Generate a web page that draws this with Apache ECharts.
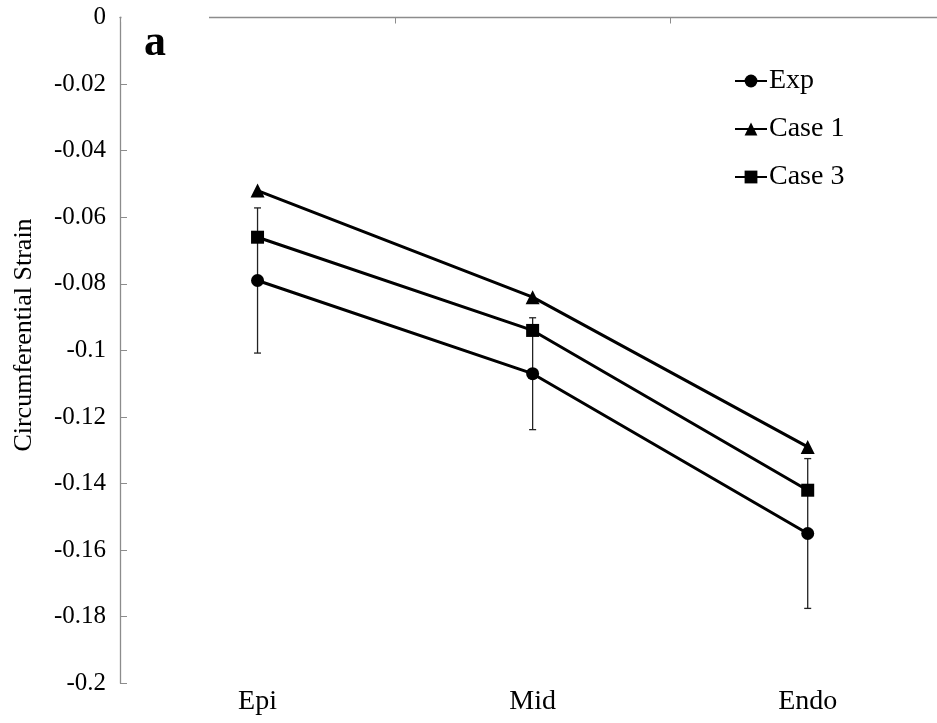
<!DOCTYPE html>
<html>
<head>
<meta charset="utf-8">
<script src="https://cdn.jsdelivr.net/npm/echarts@6/dist/echarts.min.js"></script>
<style>html,body{margin:0;padding:0;background:#fff}#c{width:937px;height:723px}</style>
</head>
<body>
<div id="c"></div>
<script>
var categories = ['Epi', 'Mid', 'Endo'];
var expValues = [-0.079, -0.107, -0.155];
var expSd = [0.0218, 0.0168, 0.0225];
var case1Values = [-0.052, -0.084, -0.129];
var case3Values = [-0.066, -0.094, -0.142];
var yTicks = { min: -0.2, max: 0, interval: 0.02 };

var serif = '"Liberation Serif", "Times New Roman", serif';
var chart = echarts.init(document.getElementById('c'));

function pts(vals) { return vals.map(function (v, i) { return [i, v]; }); }
var catIdx = categories.map(function (c, i) { return i; });
var catBounds = categories.slice(1).map(function (c, i) { return i + 0.5; });
var errData = categories.map(function (c, i) {
  return [i, expValues[i] - expSd[i], expValues[i] + expSd[i]];
});

chart.setOption({
  animation: false,
  backgroundColor: '#fff',
  grid: { left: 120, right: 0, top: 17.5, bottom: 39.7, containLabel: false },
  legend: {
    orient: 'vertical', left: 729, top: 62, itemGap: 20,
    itemWidth: 32, itemHeight: 16,
    textStyle: { fontFamily: serif, fontSize: 28, color: '#000', padding: [0, 0, 0, -3] },
    data: ['Exp', 'Case 1', 'Case 3']
  },
  xAxis: [{
    type: 'value', min: -0.5, max: 2.47, position: 'top',
    axisLine: { show: true, onZero: false, lineStyle: { color: '#8c8c8c', width: 1.3 } },
    axisTick: { show: true, inside: true, length: 6, customValues: catBounds, lineStyle: { color: '#8c8c8c' } },
    axisLabel: { show: false }, splitLine: { show: false }
  }, {
    type: 'value', min: -0.5, max: 2.47, position: 'bottom',
    axisLine: { show: false, onZero: false }, axisTick: { show: false },
    axisLabel: { show: true, margin: 4, customValues: catIdx, fontFamily: serif, fontSize: 28, color: '#000',
      formatter: function (v) { return categories[Math.round(v)] || ''; } },
    splitLine: { show: false }
  }],
  yAxis: {
    type: 'value', min: yTicks.min, max: yTicks.max, interval: yTicks.interval,
    axisLine: { show: true, onZero: false, lineStyle: { color: '#8c8c8c', width: 1.3 } },
    axisTick: { show: true, inside: true, length: 7, lineStyle: { color: '#8c8c8c' } },
    axisLabel: { margin: 14, fontFamily: serif, fontSize: 25, color: '#000',
      formatter: function (v) { return String(Math.round(v * 100) / 100); } },
    splitLine: { show: false }
  },
  series: [{
    name: 'Exp-err', type: 'custom', xAxisIndex: 0, data: errData, z: 1,
    renderItem: function (params, api) {
      var lo = api.coord([api.value(0), api.value(1)]);
      var hi = api.coord([api.value(0), api.value(2)]);
      var w = 3.5;
      var st = { stroke: '#222', lineWidth: 1.3 };
      return { type: 'group', children: [
        { type: 'line', shape: { x1: lo[0], y1: lo[1], x2: hi[0], y2: hi[1] }, style: st },
        { type: 'line', shape: { x1: lo[0] - w, y1: lo[1], x2: lo[0] + w, y2: lo[1] }, style: st },
        { type: 'line', shape: { x1: hi[0] - w, y1: hi[1], x2: hi[0] + w, y2: hi[1] }, style: st }
      ] };
    }
  }, {
    name: 'Exp', type: 'line', xAxisIndex: 0, data: pts(expValues), symbol: 'circle', symbolSize: 13,
    lineStyle: { color: '#000', width: 3 }, itemStyle: { color: '#000' }, z: 3
  }, {
    name: 'Case 1', type: 'line', xAxisIndex: 0, data: pts(case1Values), symbol: 'triangle', symbolSize: 14,
    lineStyle: { color: '#000', width: 3 }, itemStyle: { color: '#000' }, z: 3
  }, {
    name: 'Case 3', type: 'line', xAxisIndex: 0, data: pts(case3Values), symbol: 'rect', symbolSize: 13,
    lineStyle: { color: '#000', width: 3 }, itemStyle: { color: '#000' }, z: 3
  }],
  graphic: [
    { type: 'rect', shape: { x: 121.5, y: 12, width: 87.5, height: 10 }, style: { fill: '#fff' }, z: 100 },
    { type: 'text', left: 144, top: 22, style: { text: 'a', font: 'bold 44px ' + serif, fill: '#000' }, z: 101 },
    { type: 'text', x: 24, y: 335, rotation: Math.PI / 2,
      style: { text: 'Circumferential Strain', font: '26px ' + serif, fill: '#000', align: 'center', verticalAlign: 'middle' }, z: 101 }
  ]
});
</script>
</body>
</html>
